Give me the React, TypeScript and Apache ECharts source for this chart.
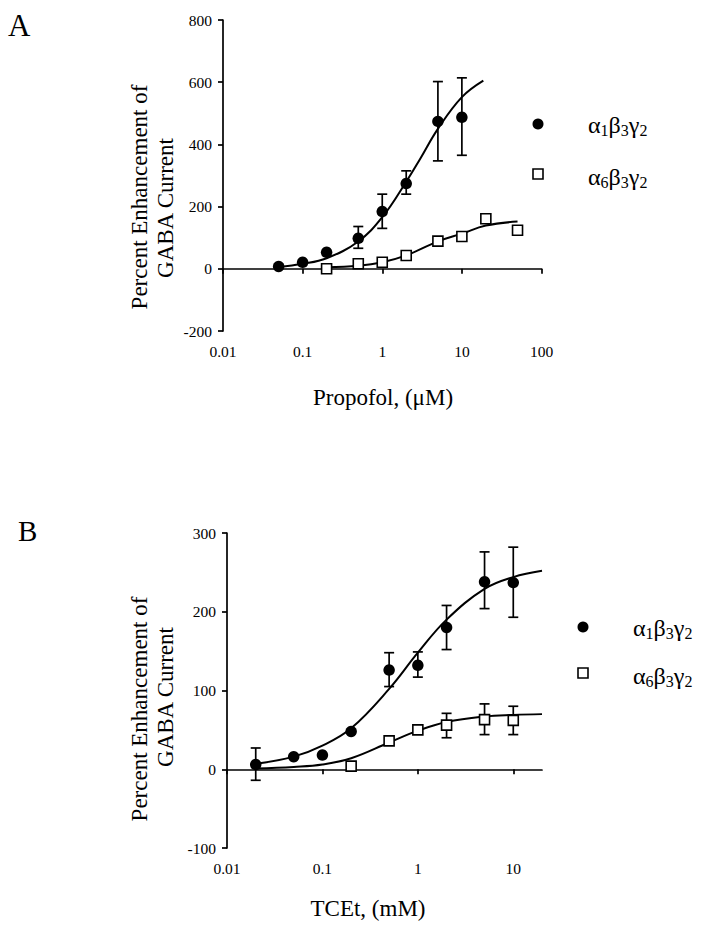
import React, { useEffect, useRef } from 'react';
import * as echarts from 'echarts';

// ---------- Panel A: Propofol (µM) ----------
const propA1X = [0.05, 0.1, 0.2, 0.5, 1, 2, 5, 10];
const propA1Y = [7.5, 21, 53, 98, 184, 274, 474, 487];
const propA1Lo = [null, null, null, 66, 130, 240, 347, 365];
const propA1Hi = [null, null, null, 136, 240, 315, 602, 614];

const propA6X = [0.2, 0.5, 1, 2, 5, 10, 20, 50];
const propA6Y = [0, 16, 21, 43, 89, 104, 161, 124];

const propFitA1X = [0.05, 0.1, 0.2, 0.5, 1, 2, 3, 5, 10, 18.6];
const propFitA1Y = [6, 16, 34, 88, 166, 280, 354, 450, 552, 605];
const propFitA6X = [0.2, 0.5, 1, 2, 5, 10, 20, 50];
const propFitA6Y = [5, 10, 21, 43, 88, 113, 139, 152];

// ---------- Panel B: TCEt (mM) ----------
const tceA1X = [0.02, 0.05, 0.1, 0.2, 0.5, 1, 2, 5, 10];
const tceA1Y = [6, 16, 18, 48, 126, 132, 180, 238, 237];
const tceA1Lo = [-14, null, null, null, 105, 117, 152, 204, 193];
const tceA1Hi = [27, null, null, null, 148, 149, 208, 276, 282];

const tceA6X = [0.2, 0.5, 1, 2, 5, 10];
const tceA6Y = [4, 36, 50, 56, 63, 62];
const tceA6Lo = [null, null, null, 40, 44, 44];
const tceA6Hi = [null, null, null, 71, 83, 80];

const tceFitX = [0.02, 0.05, 0.1, 0.2, 0.5, 1, 2, 5, 10, 20];
const tceFitA1Y = [7, 16, 30, 52, 102, 148, 190, 229, 244, 252];
const tceFitA6Y = [1, 3, 6, 14, 34, 49, 60, 67, 69, 70];

// ---------- Axis ticks ----------
const xTicksA = [0.01, 0.1, 1, 10, 100];
const xTicksB = [0.01, 0.1, 1, 10];

const legendNames = ['α1β3γ2', 'α6β3γ2'];

const FONT = '"Liberation Serif", "Times New Roman", serif';

const zip = (xs: number[], ys: (number | null)[]) => xs.map((x, i) => [x, ys[i]]);
const errs = (xs: number[], lo: (number | null)[], hi: (number | null)[]) =>
  xs.map((x, i) => [x, lo[i], hi[i]]).filter((d) => d[1] != null && d[2] != null);

function richName(name: string) {
  let s = '';
  for (const ch of name) {
    if (/[0-9]/.test(ch)) s += `{s|${ch}}`;
    else s += `{m|${ch}}`;
  }
  return s;
}

const App: React.FC = () => {
  const ref = useRef<HTMLDivElement>(null);

  useEffect(() => {
    if (!ref.current) return;
    const chart = echarts.init(ref.current, null, { renderer: 'svg' });

    const errRender = (params: any, api: any) => {
      const x = api.value(0);
      const lo = api.value(1);
      const hi = api.value(2);
      const p1 = api.coord([x, lo]);
      const p2 = api.coord([x, hi]);
      const w = 5;
      const st = { stroke: '#000', lineWidth: 1.7 };
      return {
        type: 'group',
        children: [
          { type: 'line', shape: { x1: p1[0], y1: p1[1], x2: p2[0], y2: p2[1] }, style: st },
          { type: 'line', shape: { x1: p1[0] - w, y1: p1[1], x2: p1[0] + w, y2: p1[1] }, style: st },
          { type: 'line', shape: { x1: p2[0] - w, y1: p2[1], x2: p2[0] + w, y2: p2[1] }, style: st },
        ],
      };
    };

    const axisCommon = {
      axisLine: { show: true, lineStyle: { color: '#000', width: 1.7 } },
      axisTick: { show: true, inside: false, length: 5, lineStyle: { color: '#000', width: 1.7 } },
      splitLine: { show: false },
      axisLabel: { color: '#000', fontFamily: FONT, fontSize: 15.5 },
    };

    const xLabelFmt = (v: number) => {
      const r = Math.round(Math.log10(v));
      return r < 0 ? Math.pow(10, r).toFixed(-r) : String(Math.pow(10, r));
    };

    const lineStyle = { color: '#000', width: 2 };
    const circleStyle = { color: '#000', opacity: 1 };
    const squareStyle = { color: '#fff', borderColor: '#000', borderWidth: 1.6, opacity: 1 };

    const richStyles = {
      m: { fontFamily: FONT, fontSize: 24, lineHeight: 28, fill: '#000', verticalAlign: 'middle' },
      s: { fontFamily: FONT, fontSize: 16, lineHeight: 14, fill: '#000', verticalAlign: 'bottom' },
    };

    const legendGraphics = (cx: number, cy1: number, cy2: number, tx: number) => [
      { type: 'circle', shape: { cx, cy: cy1, r: 5.5 }, style: { fill: '#000' } },
      {
        type: 'rect',
        shape: { x: cx - 5, y: cy2 - 5, width: 10, height: 10 },
        style: { fill: '#fff', stroke: '#000', lineWidth: 1.6 },
      },
      {
        type: 'text',
        x: tx,
        y: cy1 + 0.5,
        style: { text: richName(legendNames[0]), textAlign: 'left', textVerticalAlign: 'middle', rich: richStyles },
      },
      {
        type: 'text',
        x: tx,
        y: cy2 + 2.5,
        style: { text: richName(legendNames[1]), textAlign: 'left', textVerticalAlign: 'middle', rich: richStyles },
      },
    ];

    const titleText = (text: string, x: number, y: number, rot: number, size: number) => ({
      type: 'text',
      x,
      y,
      rotation: rot,
      style: {
        text,
        fontFamily: FONT,
        fontSize: size,
        fill: '#000',
        textAlign: 'center',
        textVerticalAlign: 'middle',
      },
    });

    const option: any = {
      animation: false,
      backgroundColor: '#fff',
      grid: [
        { left: 223, top: 20, width: 318.5, height: 311, containLabel: false },
        { left: 227, top: 533, width: 315, height: 315, containLabel: false },
      ],
      xAxis: [
        {
          type: 'log',
          logBase: 10,
          gridIndex: 0,
          min: 0.01,
          max: 100,
          ...axisCommon,
          axisTick: { ...axisCommon.axisTick, customValues: xTicksA },
          axisLabel: { ...axisCommon.axisLabel, margin: 12, customValues: xTicksA, formatter: xLabelFmt },
        },
        {
          type: 'log',
          logBase: 10,
          gridIndex: 1,
          min: 0.01,
          max: 20,
          ...axisCommon,
          axisTick: { ...axisCommon.axisTick, customValues: xTicksB },
          axisLabel: { ...axisCommon.axisLabel, margin: 12, customValues: xTicksB, formatter: xLabelFmt },
        },
      ],
      yAxis: [
        {
          type: 'value',
          gridIndex: 0,
          min: -200,
          max: 800,
          interval: 200,
          ...axisCommon,
          axisLabel: { ...axisCommon.axisLabel, margin: 11 },
        },
        {
          type: 'value',
          gridIndex: 1,
          min: -100,
          max: 300,
          interval: 100,
          ...axisCommon,
          axisLabel: { ...axisCommon.axisLabel, margin: 11 },
        },
      ],
      series: [
        // Panel A
        { type: 'line', xAxisIndex: 0, yAxisIndex: 0, data: zip(propFitA1X, propFitA1Y), smooth: 0.4, showSymbol: false, lineStyle, z: 2 },
        { type: 'line', xAxisIndex: 0, yAxisIndex: 0, data: zip(propFitA6X, propFitA6Y), smooth: 0.4, showSymbol: false, lineStyle, z: 2 },
        { type: 'custom', xAxisIndex: 0, yAxisIndex: 0, renderItem: errRender, data: errs(propA1X, propA1Lo, propA1Hi), encode: { x: 0, y: [1, 2] }, z: 3 },
        { type: 'scatter', name: legendNames[0], xAxisIndex: 0, yAxisIndex: 0, data: zip(propA1X, propA1Y), symbol: 'circle', symbolSize: 11.5, itemStyle: circleStyle, z: 4 },
        { type: 'scatter', name: legendNames[1], xAxisIndex: 0, yAxisIndex: 0, data: zip(propA6X, propA6Y), symbol: 'rect', symbolSize: 10, itemStyle: squareStyle, z: 4 },
        // Panel B
        { type: 'line', xAxisIndex: 1, yAxisIndex: 1, data: zip(tceFitX, tceFitA1Y), smooth: 0.4, showSymbol: false, lineStyle, z: 2 },
        { type: 'line', xAxisIndex: 1, yAxisIndex: 1, data: zip(tceFitX, tceFitA6Y), smooth: 0.4, showSymbol: false, lineStyle, z: 2 },
        { type: 'custom', xAxisIndex: 1, yAxisIndex: 1, renderItem: errRender, data: errs(tceA1X, tceA1Lo, tceA1Hi), encode: { x: 0, y: [1, 2] }, z: 3 },
        { type: 'custom', xAxisIndex: 1, yAxisIndex: 1, renderItem: errRender, data: errs(tceA6X, tceA6Lo, tceA6Hi), encode: { x: 0, y: [1, 2] }, z: 3 },
        { type: 'scatter', name: legendNames[0], xAxisIndex: 1, yAxisIndex: 1, data: zip(tceA1X, tceA1Y), symbol: 'circle', symbolSize: 11.5, itemStyle: circleStyle, z: 4 },
        { type: 'scatter', name: legendNames[1], xAxisIndex: 1, yAxisIndex: 1, data: zip(tceA6X, tceA6Y), symbol: 'rect', symbolSize: 10, itemStyle: squareStyle, z: 4 },
      ],
      graphic: [
        { type: 'text', x: 8, y: 25, style: { text: 'A', fontFamily: FONT, fontSize: 31, fill: '#000', textAlign: 'left', textVerticalAlign: 'middle' } },
        { type: 'text', x: 18, y: 531, style: { text: 'B', fontFamily: FONT, fontSize: 29, fill: '#000', textAlign: 'left', textVerticalAlign: 'middle' } },
        titleText('Percent Enhancement of', 139, 197, Math.PI / 2, 23),
        titleText('GABA Current', 165, 208, Math.PI / 2, 23),
        titleText('Percent Enhancement of', 139, 709, Math.PI / 2, 23),
        titleText('GABA Current', 165, 697, Math.PI / 2, 23),
        titleText('Propofol, (μM)', 383, 397, 0, 23),
        titleText('TCEt, (mM)', 368, 908, 0, 23),
        ...legendGraphics(538, 124, 174, 588),
        ...legendGraphics(583, 627, 673, 633),
      ],
    };

    chart.setOption(option);
    return () => chart.dispose();
  }, []);

  return <div ref={ref} style={{ width: 708, height: 930, position: 'absolute', left: 0, top: 0, background: '#fff' }} />;
};

export default App;
